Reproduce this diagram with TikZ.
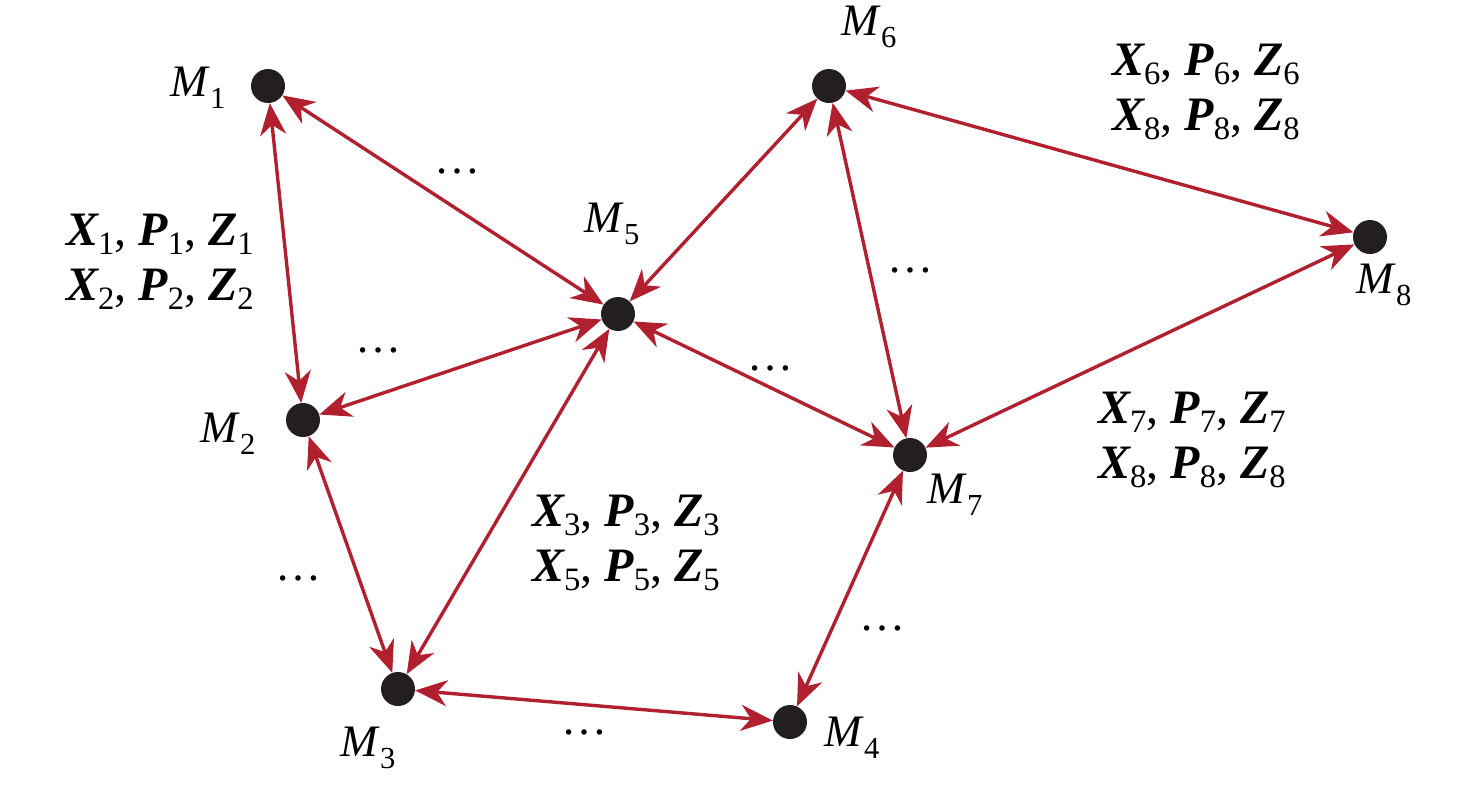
\documentclass[tikz,border=0pt]{standalone}
\usepackage{fontspec}
\setmainfont{Liberation Serif}
\usetikzlibrary{arrows.meta}
\definecolor{edgered}{RGB}{176,32,46}
\definecolor{dotblack}{RGB}{35,31,32}
\newcommand\sbs[2]{\raisebox{-#1em}{\scalebox{0.68}{#2}}}
\newcommand\mlab[1]{\textit{M}\sbs{0.26}{#1}}
\newcommand\bv[2]{{\bfseries\itshape #1}\sbs{0.18}{#2}}
\newcommand\trip[1]{\bv{X}{#1}, \bv{P}{#1}, \bv{Z}{#1}}
\begin{document}
\begin{tikzpicture}[x=1pt,y=-1pt,
  pt/.style={circle,fill=dotblack,minimum size=34pt,inner sep=0pt},
  link/.style={draw=edgered,line width=3.4pt,{Stealth[length=32pt,width=26pt,inset=10pt]}-{Stealth[length=32pt,width=26pt,inset=10pt]}},
  lbl/.style={font=\fontsize{45}{50}\selectfont,inner sep=0pt},
  vars/.style={font=\fontsize{48}{55}\selectfont,align=center,inner sep=0pt},
  ell/.style={font=\fontsize{46}{50}\selectfont,inner sep=0pt}]
\useasboundingbox (0,0) rectangle (1476,788);
% points
\node[pt] (m1) at (268,86) {};
\node[pt] (m2) at (303,420) {};
\node[pt] (m3) at (398,689) {};
\node[pt] (m4) at (790,722) {};
\node[pt] (m5) at (618,314) {};
\node[pt] (m6) at (829,86) {};
\node[pt] (m7) at (910,455) {};
\node[pt] (m8) at (1370,237) {};
% labels
\node[lbl] (l1) at (198,88) {\mlab{1}};
\node[lbl] (l2) at (228,434) {\mlab{2}};
\node[lbl] (l3) at (368,748) {\mlab{3}};
\node[lbl] (l4) at (852,738) {\mlab{4}};
\node[lbl] (l5) at (612,224) {\mlab{5}};
\node[lbl] (l6) at (869,27) {\mlab{6}};
\node[lbl] (l7) at (955,495) {\mlab{7}};
\node[lbl] (l8) at (1384,285) {\mlab{8}};
% connectors
\draw[link] (m1) -- (m2);
\draw[link] (m1) -- (m5);
\draw[link] (m2) -- (m5);
\draw[link] (m2) -- (m3);
\draw[link] (m3) -- (m5);
\draw[link] (m3) -- (m4);
\draw[link] (m4) -- (m7);
\draw[link] (m5) -- (m6);
\draw[link] (m5) -- (m7);
\draw[link] (m6) -- (m7);
\draw[link] (m6) -- (m8);
\draw[link] (m7) -- (m8);
% ellipses
\node[ell] (e1) at (457,171) {…};
\node[ell] (e2) at (378,350) {…};
\node[ell] (e3) at (298,578) {…};
\node[ell] (e4) at (584,732) {…};
\node[ell] (e5) at (770,368) {…};
\node[ell] (e6) at (910,270) {…};
\node[ell] (e7) at (882,628) {…};
% variable blocks
\node[vars] (v1) at (160,262) {\trip{1}\\\trip{2}};
\node[vars] (v2) at (626,543) {\trip{3}\\\trip{5}};
\node[vars] (v3) at (1206,92) {\trip{6}\\\trip{8}};
\node[vars] (v4) at (1192,440) {\trip{7}\\\trip{8}};
\end{tikzpicture}
\end{document}
